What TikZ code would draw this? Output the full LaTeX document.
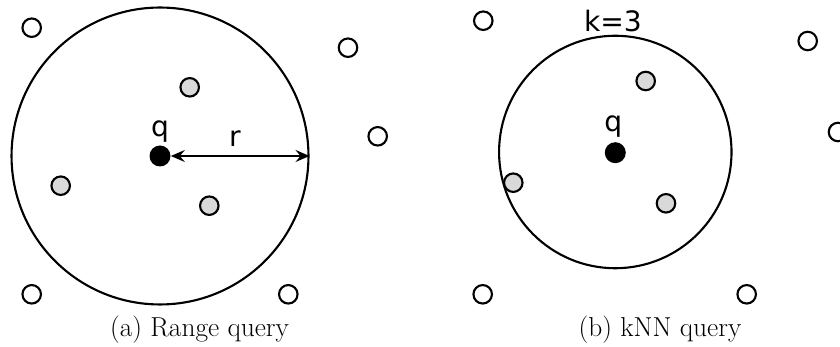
\documentclass[tikz,border=0pt]{standalone}
\usepackage{fontspec}
\newfontfamily\lblfont{DejaVu Sans}
\usetikzlibrary{arrows.meta}
\tikzset{
  pt/.style={circle, draw, line width=1.2pt, fill=white, minimum size=0.37cm, inner sep=0pt},
  hit/.style={pt, fill=black!15},
  qp/.style={circle, fill=black, minimum size=0.42cm, inner sep=0pt},
  rg/.style={circle, draw, line width=1.2pt, inner sep=0pt},
  rad/.style={{Stealth[length=2.8mm,width=2.4mm,inset=1mm]}-{Stealth[length=2.8mm,width=2.4mm,inset=1mm]}, line width=0.9pt},
  lbl/.style={font=\lblfont\fontsize{16}{18}\selectfont, anchor=base, inner sep=0pt},
  captxt/.style={font=\fontsize{15.6}{18}\selectfont, anchor=base, inner sep=0pt}
}

\begin{document}
\begin{tikzpicture}[x=0.02cm, y=-0.02cm]
  \clip (0,0) rectangle (840,347);
  % Range query
  \node[rg, minimum size=5.94cm] (rc) at (160,156) {};
  \node[qp] (qa) at (160,156) {};
  \node[lbl] (qla) at (160,136.7) {q};
  \draw[rad] (qa) -- (rc.east);
  \node[lbl] (rl) at (235,146.7) {r};
  \node[hit] (ha1) at (189.7,87.3) {};
  \node[hit] (ha2) at (60.7,185.7) {};
  \node[hit] (ha3) at (209.3,205.7) {};
  \node[pt] (pa1) at (31.7,27.7) {};
  \node[pt] (pa2) at (348,47.7) {};
  \node[pt] (pa3) at (377.7,136.3) {};
  \node[pt] (pa4) at (31.7,294.3) {};
  \node[pt] (pa5) at (288.3,294.3) {};
  \node[captxt] (capa) at (199.5,337) {(a) Range query};
  % kNN query
  \node[rg, minimum size=4.65cm] (kc) at (615.3,152) {};
  \node[qp] (qb) at (615.3,152.7) {};
  \node[lbl] (qlb) at (613.3,131.7) {q};
  \node[lbl] (kl) at (613,31.7) {k=3};
  \node[hit] (hb1) at (645.7,81) {};
  \node[hit] (hb2) at (513.3,182.7) {};
  \node[hit] (hb3) at (666,203.3) {};
  \node[pt] (pb1) at (483.3,20.7) {};
  \node[pt] (pb2) at (807.7,41) {};
  \node[pt] (pb3) at (838,132) {};
  \node[pt] (pb4) at (482.7,294.3) {};
  \node[pt] (pb5) at (746.7,294.3) {};
  \node[captxt] (capb) at (660,337) {(b) kNN query};
\end{tikzpicture}
\end{document}
